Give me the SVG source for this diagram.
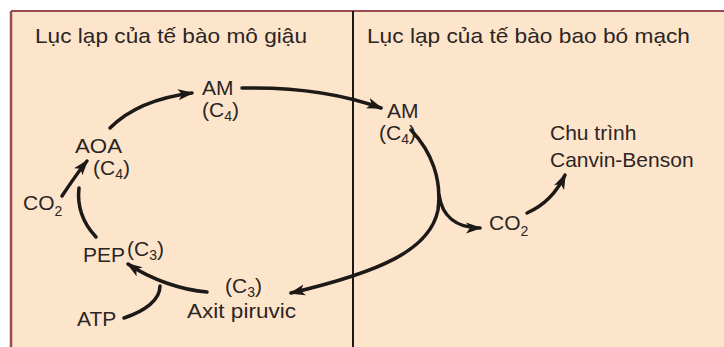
<svg xmlns="http://www.w3.org/2000/svg" width="724" height="347" viewBox="0 0 724 347">
<style>
.t{font-family:"Liberation Sans",Arial,sans-serif;font-size:21px;fill:#2b2624}
.s{font-size:14px}
.a{fill:none;stroke:#1c1917;stroke-width:3.5;stroke-linecap:round}
</style>
<defs>
<marker id="ah" markerUnits="userSpaceOnUse" markerWidth="16" markerHeight="12" viewBox="0 0 16 12" refX="14" refY="6" orient="auto">
<path d="M0,0.5 L16,6 L0,11.5 L4,6 Z" fill="#1c1917"/>
</marker>
</defs>
<rect x="0" y="0" width="724" height="347" fill="#ffffff"/>
<rect x="11" y="11" width="713" height="336" fill="#fde5cc"/>
<line x1="11" y1="11" x2="724" y2="11" stroke="#9a4a52" stroke-width="2"/>
<line x1="11" y1="11" x2="11" y2="347" stroke="#9a4a52" stroke-width="2.5"/>
<line x1="353" y1="11" x2="353" y2="347" stroke="#1a1a1a" stroke-width="2"/>

<g id="title-left"><text class="t" x="35" y="43" textLength="272" lengthAdjust="spacingAndGlyphs">Lục lạp của tế bào mô giậu</text></g>
<g id="title-right"><text class="t" x="367" y="43" textLength="323" lengthAdjust="spacingAndGlyphs">Lục lạp của tế bào bao bó mạch</text></g>

<g id="am-left"><text class="t" x="202" y="95">AM</text><text class="t" x="202" y="117">(C<tspan class="s" dy="4">4</tspan><tspan dy="-4">)</tspan></text></g>
<g id="aoa"><text class="t" x="75" y="153" textLength="47" lengthAdjust="spacingAndGlyphs">AOA</text><text class="t" x="93" y="175">(C<tspan class="s" dy="4">4</tspan><tspan dy="-4">)</tspan></text></g>
<g id="co2-left"><text class="t" x="23" y="210">CO<tspan class="s" dy="6">2</tspan></text></g>
<g id="pep"><text class="t" x="83" y="262">PEP</text><text class="t" x="127" y="256">(C<tspan class="s" dy="4">3</tspan><tspan dy="-4">)</tspan></text></g>
<g id="atp"><text class="t" x="77" y="326">ATP</text></g>
<g id="pyruvate"><text class="t" x="225" y="293">(C<tspan class="s" dy="4">3</tspan><tspan dy="-4">)</tspan></text><text class="t" x="187" y="318" textLength="109" lengthAdjust="spacingAndGlyphs">Axit piruvic</text></g>
<g id="am-right"><text class="t" x="387" y="118">AM</text><text class="t" x="379" y="140">(C<tspan class="s" dy="4">4</tspan><tspan dy="-4">)</tspan></text></g>
<g id="calvin"><text class="t" x="550" y="140">Chu trình</text><text class="t" x="550" y="167">Canvin-Benson</text></g>
<g id="co2-right"><text class="t" x="489" y="230">CO<tspan class="s" dy="6">2</tspan></text></g>

<g id="connectors">
<path class="a" d="M110,128 C130,108 160,97 192,93" marker-end="url(#ah)"/>
<path class="a" d="M242,88 C290,87 340,93 381,108" marker-end="url(#ah)"/>
<path class="a" d="M411,130 C432,152 442,180 438,210 C430,250 380,272 291,293" marker-end="url(#ah)"/>
<path class="a" d="M439,195 C442,215 455,228 480,228" marker-end="url(#ah)"/>
<path class="a" d="M527,213 C545,205 557,192 565,175" marker-end="url(#ah)"/>
<path class="a" d="M207,292 C182,290 152,280 128,264" marker-end="url(#ah)"/>
<path class="a" d="M124,318 C145,311 160,300 160,286"/>
<path class="a" d="M96,237 C82,222 77,205 79,188"/>
<path class="a" d="M62,196 C70,184 78,172 87,161" marker-end="url(#ah)"/>
</g>
</svg>
